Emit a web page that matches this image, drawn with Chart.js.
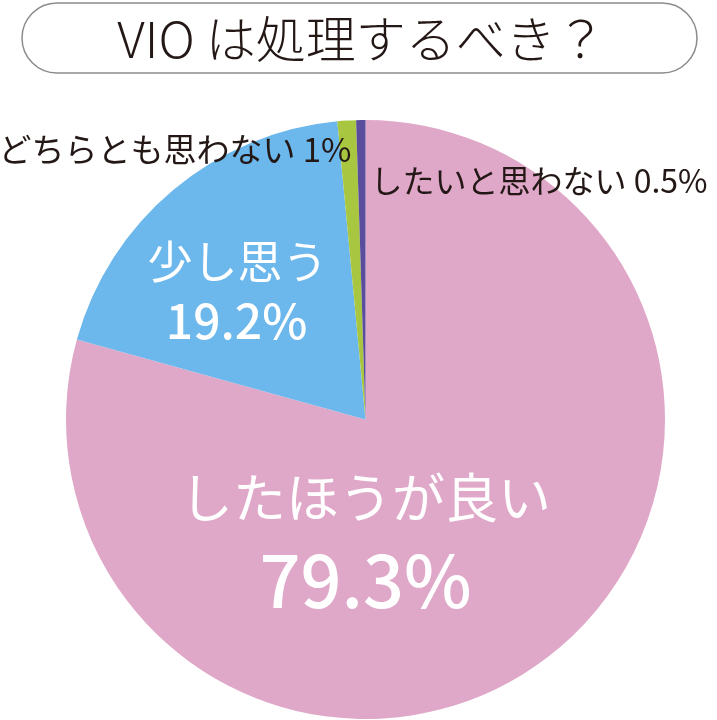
<!DOCTYPE html>
<html lang="ja">
<head>
    <meta charset="UTF-8">
    <title>VIO は処理するべき？</title>
    <script src="https://cdn.jsdelivr.net/npm/chart.js"></script>
    <style>
        html, body { margin: 0; padding: 0; background: #fff; }
        #wrap { position: relative; width: 717px; height: 720px; }
        canvas { display: block; }
    </style>
</head>
<body>
    <div id="wrap">
        <canvas id="vioChart" width="717" height="720"></canvas>
    </div>

    <script>
        // data
        const title = 'VIO は処理するべき？';
        const categories = ['したほうが良い', '少し思う', 'どちらとも思わない', 'したいと思わない'];
        const shares = [79.3, 19.2, 1, 0.5];
        const shareLabels = ['79.3%', '19.2%', '1%', '0.5%'];
        const colors = ['#e0a8c8', '#6cb8ec', '#a9c640', '#5b4d9d'];

        const FONT = '"Noto Sans CJK JP", "Noto Sans", sans-serif';
        const INK = '#231815';

        // title box + slice labels
        const decorations = {
            id: 'decorations',
            afterDraw(chart) {
                const ctx = chart.ctx;
                ctx.save();

                // rounded title box
                const bx = 22, by = 3, bw = 675, bh = 70, r = 35;
                ctx.beginPath();
                ctx.roundRect(bx, by, bw, bh, r);
                ctx.fillStyle = '#fff';
                ctx.fill();
                ctx.lineWidth = 1.5;
                ctx.strokeStyle = '#8c8c8c';
                ctx.stroke();

                ctx.fillStyle = INK;
                ctx.textAlign = 'center';
                ctx.textBaseline = 'middle';
                ctx.font = '300 50px ' + FONT;
                ctx.fillText(title, bx + bw / 2 + 2, by + bh / 2 + 1);

                const arc = chart.getDatasetMeta(0).data[0];
                const cx = arc.x, cy = arc.y;

                // big pink slice
                ctx.fillStyle = '#fff';
                ctx.font = '400 53px ' + FONT;
                ctx.fillText(categories[0], cx, cy + 78);
                ctx.font = '500 72px ' + FONT;
                ctx.fillText(shareLabels[0], cx, cy + 161);

                // blue slice
                ctx.font = '400 45px ' + FONT;
                ctx.fillText(categories[1], cx - 128, cy - 158);
                ctx.font = '500 48px ' + FONT;
                ctx.fillText(shareLabels[1], cx - 129, cy - 99);

                // small slices, outside
                ctx.fillStyle = INK;
                ctx.font = '400 33px ' + FONT;
                ctx.textAlign = 'right';
                ctx.fillText(categories[2] + ' ' + shareLabels[2], cx - 14, cy - 270);
                ctx.font = '400 32px ' + FONT;
                ctx.textAlign = 'left';
                ctx.fillText(categories[3] + ' ' + shareLabels[3], cx + 5, cy - 239);

                ctx.restore();
            }
        };

        new Chart(document.getElementById('vioChart'), {
            type: 'pie',
            data: {
                labels: categories,
                datasets: [{
                    data: shares,
                    backgroundColor: colors,
                    borderWidth: 0
                }]
            },
            options: {
                responsive: false,
                animation: false,
                layout: { padding: { top: 120, bottom: 1, left: 66, right: 52 } },
                plugins: {
                    legend: { display: false },
                    tooltip: { enabled: false }
                }
            },
            plugins: [decorations]
        });
    </script>
</body>
</html>
